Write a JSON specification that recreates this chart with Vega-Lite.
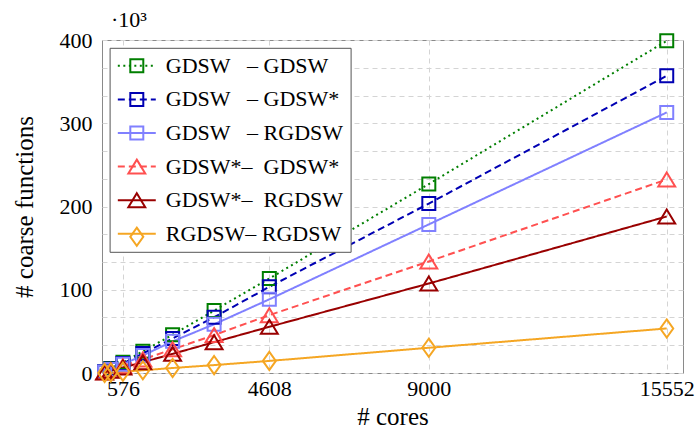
{
  "$schema": "https://vega.github.io/schema/vega-lite/v6.json",
  "width": 581,
  "height": 333,
  "autosize": "none",
  "padding": {"left": 102, "top": 40, "right": 15, "bottom": 65},
  "background": "white",
  "title": {"text": "·10³", "anchor": "start", "frame": "group", "font": "Liberation Serif, DejaVu Serif, serif", "fontSize": 22, "fontWeight": "normal", "color": "black", "dx": 9, "offset": -20, "baseline": "alphabetic"},
  "config": {
    "font": "Liberation Serif, DejaVu Serif, serif",
    "view": {"stroke": "#8a8a8a", "strokeWidth": 1},
    "axis": {"labelFont": "Liberation Serif, DejaVu Serif, serif", "labelFontSize": 22, "labelColor": "black", "titleFont": "Liberation Serif, DejaVu Serif, serif", "titleFontSize": 25, "titleFontWeight": "normal", "titleColor": "black", "grid": true, "gridColor": "#d4d4d4", "gridDash": [5, 4], "gridWidth": 1, "domain": false, "ticks": false},
    "legend": {"labelFont": "Liberation Serif, DejaVu Serif, serif"}
  },
  "data": {"values": [
    {"cores": 72, "series": "GDSW – GDSW", "n": 1.6},
    {"cores": 243, "series": "GDSW – GDSW", "n": 5.5},
    {"cores": 576, "series": "GDSW – GDSW", "n": 13},
    {"cores": 1125, "series": "GDSW – GDSW", "n": 26},
    {"cores": 1944, "series": "GDSW – GDSW", "n": 46},
    {"cores": 3087, "series": "GDSW – GDSW", "n": 75},
    {"cores": 4608, "series": "GDSW – GDSW", "n": 113.5},
    {"cores": 9000, "series": "GDSW – GDSW", "n": 227},
    {"cores": 15552, "series": "GDSW – GDSW", "n": 399},
    {"cores": 72, "series": "GDSW – GDSW*", "n": 1.4},
    {"cores": 243, "series": "GDSW – GDSW*", "n": 4.8},
    {"cores": 576, "series": "GDSW – GDSW*", "n": 11.5},
    {"cores": 1125, "series": "GDSW – GDSW*", "n": 23.5},
    {"cores": 1944, "series": "GDSW – GDSW*", "n": 41.5},
    {"cores": 3087, "series": "GDSW – GDSW*", "n": 67},
    {"cores": 4608, "series": "GDSW – GDSW*", "n": 103.5},
    {"cores": 9000, "series": "GDSW – GDSW*", "n": 203.5},
    {"cores": 15552, "series": "GDSW – GDSW*", "n": 357},
    {"cores": 72, "series": "GDSW – RGDSW", "n": 1.2},
    {"cores": 243, "series": "GDSW – RGDSW", "n": 4.3},
    {"cores": 576, "series": "GDSW – RGDSW", "n": 10.5},
    {"cores": 1125, "series": "GDSW – RGDSW", "n": 21},
    {"cores": 1944, "series": "GDSW – RGDSW", "n": 38},
    {"cores": 3087, "series": "GDSW – RGDSW", "n": 58.5},
    {"cores": 4608, "series": "GDSW – RGDSW", "n": 88.5},
    {"cores": 9000, "series": "GDSW – RGDSW", "n": 178.5},
    {"cores": 15552, "series": "GDSW – RGDSW", "n": 313},
    {"cores": 72, "series": "GDSW* – GDSW*", "n": 0.9},
    {"cores": 243, "series": "GDSW* – GDSW*", "n": 3.4},
    {"cores": 576, "series": "GDSW* – GDSW*", "n": 8.2},
    {"cores": 1125, "series": "GDSW* – GDSW*", "n": 16.3},
    {"cores": 1944, "series": "GDSW* – GDSW*", "n": 28.5},
    {"cores": 3087, "series": "GDSW* – GDSW*", "n": 45.5},
    {"cores": 4608, "series": "GDSW* – GDSW*", "n": 69.5},
    {"cores": 9000, "series": "GDSW* – GDSW*", "n": 134},
    {"cores": 15552, "series": "GDSW* – GDSW*", "n": 232.5},
    {"cores": 72, "series": "GDSW* – RGDSW", "n": 0.7},
    {"cores": 243, "series": "GDSW* – RGDSW", "n": 2.7},
    {"cores": 576, "series": "GDSW* – RGDSW", "n": 6.6},
    {"cores": 1125, "series": "GDSW* – RGDSW", "n": 13},
    {"cores": 1944, "series": "GDSW* – RGDSW", "n": 23},
    {"cores": 3087, "series": "GDSW* – RGDSW", "n": 37},
    {"cores": 4608, "series": "GDSW* – RGDSW", "n": 55.5},
    {"cores": 9000, "series": "GDSW* – RGDSW", "n": 107.5},
    {"cores": 15552, "series": "GDSW* – RGDSW", "n": 188},
    {"cores": 72, "series": "RGDSW – RGDSW", "n": 0.15},
    {"cores": 243, "series": "RGDSW – RGDSW", "n": 0.6},
    {"cores": 576, "series": "RGDSW – RGDSW", "n": 1.6},
    {"cores": 1125, "series": "RGDSW – RGDSW", "n": 3.3},
    {"cores": 1944, "series": "RGDSW – RGDSW", "n": 6},
    {"cores": 3087, "series": "RGDSW – RGDSW", "n": 9.5},
    {"cores": 4608, "series": "RGDSW – RGDSW", "n": 14.5},
    {"cores": 9000, "series": "RGDSW – RGDSW", "n": 30.3},
    {"cores": 15552, "series": "RGDSW – RGDSW", "n": 53.5}
  ]},
  "encoding": {
    "x": {"field": "cores", "type": "quantitative", "scale": {"domain": [0, 16000], "nice": false, "zero": false},
      "axis": {"values": [576, 4608, 9000, 15552], "format": "d", "labelPadding": 5, "title": "# cores", "titlePadding": 5, "labelFlush": false}},
    "y": {"field": "n", "type": "quantitative", "scale": {"domain": [0, 400], "nice": false},
      "axis": {"values": [0, 33.3333, 66.6667, 100, 133.3333, 166.6667, 200, 233.3333, 266.6667, 300, 333.3333, 366.6667, 400], "labelExpr": "datum.value % 100 == 0 ? datum.label : ''", "format": "d", "labelPadding": 10, "title": "# coarse functions", "titlePadding": 22}}
  },
  "layer": [
    {
      "mark": {"type": "line", "strokeWidth": 2},
      "encoding": {
        "color": {"field": "series", "type": "nominal",
          "scale": {"domain": ["GDSW – GDSW", "GDSW – GDSW*", "GDSW – RGDSW", "GDSW* – GDSW*", "GDSW* – RGDSW", "RGDSW – RGDSW"], "range": ["#007f00", "#0000b3", "#8080ff", "#ff5050", "#990000", "#f5a623"]},
          "legend": {"orient": "none", "legendX": 7.6, "legendY": 7.8, "title": null, "symbolType": "M-2.92,0L2.92,0", "symbolSize": 169, "symbolStrokeWidth": 2, "symbolFillColor": "transparent", "symbolOffset": 9.2, "labelOffset": 18, "labelFontSize": 22, "labelColor": "black", "labelLimit": 400, "padding": 7, "rowPadding": 11.6, "fillColor": "white", "strokeColor": "#555555",
            "labelExpr": "{'GDSW – GDSW': 'GDSW\u2002\u00a0–\u00a0GDSW', 'GDSW – GDSW*': 'GDSW\u2002\u00a0–\u00a0GDSW*', 'GDSW – RGDSW': 'GDSW\u2002\u00a0–\u00a0RGDSW', 'GDSW* – GDSW*': 'GDSW*–\u2002GDSW*', 'GDSW* – RGDSW': 'GDSW*–\u2002RGDSW', 'RGDSW – RGDSW': 'RGDSW–\u00a0RGDSW'}[datum.label]"}},
        "strokeDash": {"field": "series", "type": "nominal",
          "scale": {"domain": ["GDSW – GDSW", "GDSW – GDSW*", "GDSW – RGDSW", "GDSW* – GDSW*", "GDSW* – RGDSW", "RGDSW – RGDSW"], "range": [[2, 3.5], [7, 4], [1, 0], [7, 4], [1, 0], [1, 0]]},
          "legend": {"orient": "none", "legendX": 7.6, "legendY": 7.8, "title": null, "symbolType": "M-2.92,0L2.92,0", "symbolSize": 169, "symbolStrokeWidth": 2, "symbolFillColor": "transparent", "symbolOffset": 9.2, "labelOffset": 18, "labelFontSize": 22, "labelColor": "black", "labelLimit": 400, "padding": 7, "rowPadding": 11.6, "fillColor": "white", "strokeColor": "#555555",
            "labelExpr": "{'GDSW – GDSW': 'GDSW\u2002\u00a0–\u00a0GDSW', 'GDSW – GDSW*': 'GDSW\u2002\u00a0–\u00a0GDSW*', 'GDSW – RGDSW': 'GDSW\u2002\u00a0–\u00a0RGDSW', 'GDSW* – GDSW*': 'GDSW*–\u2002GDSW*', 'GDSW* – RGDSW': 'GDSW*–\u2002RGDSW', 'RGDSW – RGDSW': 'RGDSW–\u00a0RGDSW'}[datum.label]"}}
      }
    },
    {
      "mark": {"type": "point", "filled": false, "strokeWidth": 2, "size": 169, "opacity": 1},
      "encoding": {
        "color": {"field": "series", "type": "nominal",
          "scale": {"domain": ["GDSW – GDSW", "GDSW – GDSW*", "GDSW – RGDSW", "GDSW* – GDSW*", "GDSW* – RGDSW", "RGDSW – RGDSW"], "range": ["#007f00", "#0000b3", "#8080ff", "#ff5050", "#990000", "#f5a623"]},
          "legend": {"orient": "none", "legendX": 7.6, "legendY": 7.8, "title": null, "symbolSize": 169, "symbolStrokeWidth": 2, "symbolFillColor": "transparent", "symbolOffset": 9.2, "labelOffset": 18, "labelFontSize": 22, "labelLimit": 400, "padding": 7, "rowPadding": 11.6, "fillColor": "transparent", "strokeColor": "transparent", "labelExpr": "''"}},
        "shape": {"field": "series", "type": "nominal",
          "scale": {"domain": ["GDSW – GDSW", "GDSW – GDSW*", "GDSW – RGDSW", "GDSW* – GDSW*", "GDSW* – RGDSW", "RGDSW – RGDSW"], "range": ["square", "square", "square", "M0,-1.075L1.3,1.075L-1.3,1.075Z", "M0,-1.075L1.3,1.075L-1.3,1.075Z", "M0,-1.4L1,0L0,1.4L-1,0Z"]},
          "legend": {"orient": "none", "legendX": 7.6, "legendY": 7.8, "title": null, "symbolSize": 169, "symbolStrokeWidth": 2, "symbolFillColor": "transparent", "symbolOffset": 9.2, "labelOffset": 18, "labelFontSize": 22, "labelLimit": 400, "padding": 7, "rowPadding": 11.6, "fillColor": "transparent", "strokeColor": "transparent", "labelExpr": "''"}}
      }
    }
  ],
  "resolve": {
    "scale": {"color": "independent", "shape": "independent", "strokeDash": "independent"},
    "legend": {"color": "independent", "shape": "independent", "strokeDash": "independent"}
  }
}
